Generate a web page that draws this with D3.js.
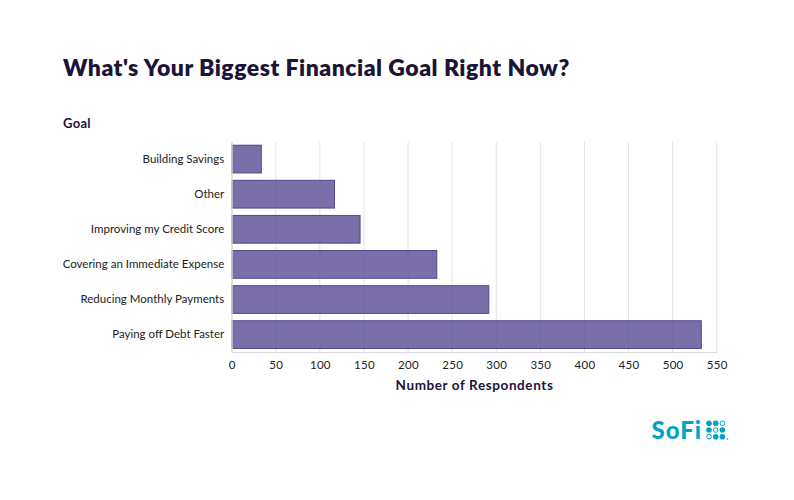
<!DOCTYPE html>
<html>
<head>
<meta charset="utf-8">
<script src="https://cdn.jsdelivr.net/npm/d3@7"></script>
<style>
  html, body { margin: 0; padding: 0; background: #ffffff; }
  svg { display: block; font-family: Lato, "Open Sans", sans-serif; }
</style>
</head>
<body>
<svg id="chart" width="794" height="500"></svg>
<script>
const categories = [
  "Building Savings",
  "Other",
  "Improving my Credit Score",
  "Covering an Immediate Expense",
  "Reducing Monthly Payments",
  "Paying off Debt Faster"
];
const respondents = [33, 116, 145, 232, 291, 532];
const xTicks = [0, 50, 100, 150, 200, 250, 300, 350, 400, 450, 500, 550];
const titleText = "What's Your Biggest Financial Goal Right Now?";
const yAxisTitle = "Goal";
const xAxisTitle = "Number of Respondents";

const svg = d3.select("#chart");
const navy = "#1a1438";

const x = d3.scaleLinear().domain([0, 550]).range([231.7, 716.7]);
const y = d3.scaleBand().domain(categories).range([141.7, 352]).paddingInner(0.21).paddingOuter(0.1);

// title
svg.append("text").attr("x", 63).attr("y", 76)
  .attr("fill", navy).attr("font-size", 23).attr("font-weight", 800)
  .attr("letter-spacing", 0.5)
  .text(titleText);

svg.append("text").attr("x", 63).attr("y", 127.5)
  .attr("fill", navy).attr("font-size", 13).attr("font-weight", 700)
  .attr("letter-spacing", 0.3)
  .text(yAxisTitle);

// gridlines
svg.append("g").selectAll("line").data(xTicks).join("line")
  .attr("x1", d => x(d)).attr("x2", d => x(d))
  .attr("y1", 141.7).attr("y2", 352)
  .attr("stroke", "#e3e3e6").attr("stroke-width", 1);

// bars
svg.append("g").selectAll("rect").data(categories).join("rect")
  .attr("x", x(0) + 0.5)
  .attr("y", d => y(d))
  .attr("width", (d, i) => x(respondents[i]) - x(0))
  .attr("height", y.bandwidth())
  .attr("fill", "#5e4f96").attr("fill-opacity", 0.82)
  .attr("stroke", "#53468f").attr("stroke-width", 1);

// x axis
const xAxis = d3.axisBottom(x).tickValues(xTicks).tickSize(0).tickPadding(9);
const gx = svg.append("g").attr("transform", "translate(0,352)").call(xAxis);
gx.select(".domain").attr("stroke", "#d9d9de");
gx.selectAll("text").attr("font-size", 11.5).attr("fill", "#222")
  .attr("font-family", "Lato, sans-serif").attr("letter-spacing", 0.3);

// y axis
const yAxis = d3.axisLeft(y).tickSize(0).tickPadding(7.5);
const gy = svg.append("g").attr("transform", "translate(231.7,0)").call(yAxis);
gy.select(".domain").attr("stroke", "#d9d9de");
gy.selectAll("text").attr("font-size", 11.5).attr("fill", "#222")
  .attr("font-family", "Lato, sans-serif");

// x axis title
svg.append("text").attr("x", 474.5).attr("y", 390)
  .attr("text-anchor", "middle")
  .attr("fill", navy).attr("font-size", 13.5).attr("font-weight", 700)
  .attr("letter-spacing", 0.6)
  .text(xAxisTitle);

// SoFi logo
const logo = svg.append("g");
logo.append("text").attr("x", 651.5).attr("y", 438.5)
  .attr("fill", "#00a3c8").attr("font-size", 24).attr("font-weight", 900)
  .attr("letter-spacing", 1.0)
  .attr("font-family", "Lato, sans-serif")
  .text("SoFi");
const dotPattern = [[1,1,0],[1,0,1],[0,1,1]];
const dotX = [709, 715.7, 722.4];
const dotY = [423.3, 430, 436.7];
dotPattern.forEach((row, r) => row.forEach((f, c) => {
  logo.append("circle").attr("cx", dotX[c]).attr("cy", dotY[r]).attr("r", f ? 2.8 : 2.3)
    .attr("fill", f ? "#00a3c8" : "#fff")
    .attr("stroke", "#00a3c8").attr("stroke-width", f ? 0 : 1);
}));
logo.append("circle").attr("cx", 727.5).attr("cy", 439).attr("r", 0.8).attr("fill", "#00a3c8");
</script>
</body>
</html>
